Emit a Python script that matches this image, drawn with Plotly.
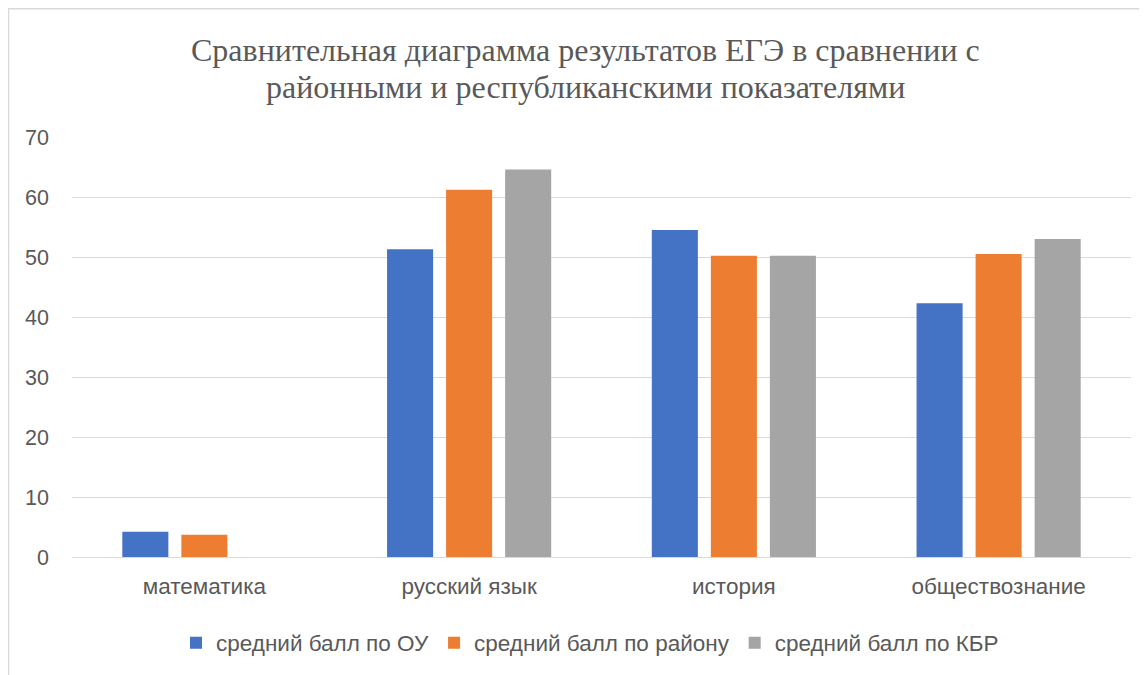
import plotly.graph_objects as go

categories = ["математика", "русский язык", "история", "обществознание"]
series_names = ["средний балл по ОУ", "средний балл по району", "средний балл по КБР"]
ou_values = [4.2, 51.3, 54.5, 42.3]
district_values = [3.7, 61.2, 50.2, 50.5]
kbr_values = [None, 64.6, 50.2, 53.0]
y_ticks = [0, 10, 20, 30, 40, 50, 60, 70]
title_lines = ["Сравнительная диаграмма результатов ЕГЭ в сравнении с",
               "районными и республиканскими показателями"]

colors = ["#4472C4", "#ED7D31", "#A5A5A5"]
text_color = "#595959"
sans = "Liberation Sans, Arial, sans-serif"
serif = "Liberation Serif, Times New Roman, serif"

fig = go.Figure()
for name, vals, col in zip(series_names, [ou_values, district_values, kbr_values], colors):
    fig.add_trace(go.Bar(x=categories, y=vals, name=name, marker=dict(color=col, line=dict(width=0))))

# page is offset by 8px body margin; work in figure coordinates
OFF = 8
W, H = 1147 - OFF, 675 - OFF
L, R, T, B = 72 - OFF, 16, 137 - OFF, 117
pw = W - L - R
ph = H - T - B

def px_x(px):
    return (px - OFF - L) / pw

def px_y(py):
    return (H - B - (py - OFF)) / ph

annotations = []
for line, ypage in zip(title_lines, [50, 87]):
    annotations.append(dict(
        text=line, xref="paper", yref="paper", x=px_x(585), y=px_y(ypage),
        xanchor="center", yanchor="middle", showarrow=False,
        font=dict(family=serif, size=32, color=text_color),
    ))

fig.update_layout(
    width=W, height=H,
    margin=dict(l=L, r=R, t=T, b=B),
    paper_bgcolor="white", plot_bgcolor="white",
    barmode="group", bargap=0.331, bargroupgap=0.22,
    annotations=annotations,
    xaxis=dict(
        showgrid=False, showline=True, linecolor="#d9d9d9", linewidth=1,
        tickfont=dict(family=sans, size=22.5, color=text_color),
        ticks="", ticklabelstandoff=9,
    ),
    yaxis=dict(
        range=[0, 70], tickvals=y_ticks, showgrid=True, gridcolor="#d9d9d9", gridwidth=1,
        zeroline=False, showline=False,
        tickfont=dict(family=sans, size=21.5, color=text_color),
        ticks="", ticklabelstandoff=22,
    ),
    legend=dict(
        orientation="h", x=px_x(590), xanchor="center", y=px_y(643), yanchor="middle",
        font=dict(family=sans, size=22.5, color=text_color),
        itemwidth=30, traceorder="normal",
    ),
    shapes=[dict(
        type="rect", xref="paper", yref="paper",
        x0=px_x(8.5), x1=px_x(1170), y0=px_y(700), y1=px_y(8.5),
        line=dict(color="#d9d9d9", width=1.5), fillcolor="rgba(0,0,0,0)", layer="below",
    )],
)

fig.write_html("out.html")
